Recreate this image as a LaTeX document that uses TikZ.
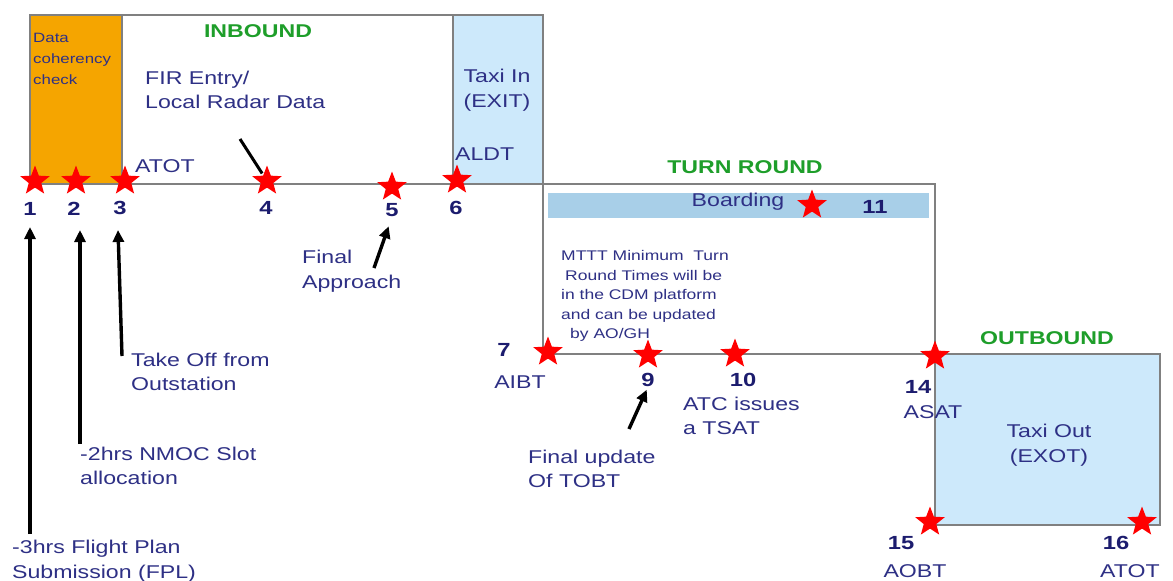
\documentclass[tikz,border=0pt]{standalone}
\usepackage{fontspec}
\setmainfont{Liberation Sans}[FakeStretch=1.25]
\usetikzlibrary{shapes.geometric,arrows.meta,backgrounds}
\definecolor{navy}{HTML}{2E3085}
\definecolor{numnavy}{HTML}{1C1C6E}
\definecolor{hgreen}{HTML}{1E9E2A}
\definecolor{orfill}{HTML}{F5A500}
\definecolor{tblue}{HTML}{CDE9FB}
\definecolor{bblue}{HTML}{A8CFE8}
\definecolor{boxgray}{HTML}{808080}
\begin{document}
\begin{tikzpicture}[x=1pt,y=-1pt,
  txt/.style={text=navy, font=\fontsize{18.5}{24.5}\selectfont, inner sep=0pt},
  small/.style={text=navy, font=\fontsize{13.5}{21}\selectfont, inner sep=0pt},
  mt/.style={text=navy, font=\fontsize{14}{19.5}\selectfont, inner sep=0pt},
  num/.style={text=numnavy, font=\bfseries\fontsize{19}{22}\selectfont, inner sep=0pt},
  head/.style={text=hgreen, font=\bfseries\fontsize{18.5}{22}\selectfont, inner sep=0pt},
  redstar/.style={star, star points=5, star point ratio=2.35, fill=red, draw=none, minimum size=31pt, inner sep=0pt},
  boxline/.style={draw=boxgray, line width=1.2pt},
  ptr/.style={line width=3.4pt, -{Triangle[length=12pt,width=11pt]}},
  plainline/.style={line width=3pt}]
\useasboundingbox (0,0) rectangle (1173,581);
\begin{scope}[on background layer]
\fill[white] (0,0) rectangle (1173,581);
\fill[orfill] (30,15) rectangle (122,184);
\fill[tblue] (453,15) rectangle (543,184);
\fill[bblue] (548,193) rectangle (929,218);
\fill[tblue] (935,354) rectangle (1160,525);
\draw[boxline] (30,184) -- (30,15) -- (543,15) -- (543,354) -- (1160,354) -- (1160,525) -- (935,525) -- (935,184) -- (30,184);
\draw[boxline] (122,15) -- (122,184);
\draw[boxline] (453,15) -- (453,184);
\end{scope}

% headers
\node[head] (inb) at (258,31) {INBOUND};
\node[head] (turn) at (745,167) {TURN ROUND};
\node[head] (outb) at (1047,338) {OUTBOUND};

% inbound texts
\node[small, anchor=west, align=left] (dcc) at (33,59) {Data\\coherency\\check};
\node[txt, anchor=west, align=left] (fir) at (145,90) {FIR Entry/\\Local Radar Data};
\node[txt, align=center] (taxiin) at (497,90) {Taxi In\\(EXIT)};
\node[txt, anchor=west] (atot3) at (135,166) {ATOT};
\node[txt, anchor=west] (aldt) at (455,154) {ALDT};

% stars
\node[redstar] (s1) at (35,181) {};
\node[redstar] (s2) at (76,181) {};
\node[redstar] (s3) at (125,181) {};
\node[redstar] (s4) at (267,181) {};
\node[redstar] (s5) at (392,187) {};
\node[redstar] (s6) at (457,180) {};
\node[redstar] (s7) at (548,352) {};
\node[redstar] (s9) at (648,355) {};
\node[redstar] (s10) at (735,354) {};
\node[redstar] (s11) at (812,205) {};
\node[redstar] (s14) at (935,356) {};
\node[redstar] (s15) at (930,522) {};
\node[redstar] (s16) at (1142,522) {};

% numbers
\node[num] (n1) at (30,209) {1};
\node[num] (n2) at (74,209) {2};
\node[num] (n3) at (120,208) {3};
\node[num] (n4) at (266,208) {4};
\node[num] (n5) at (392,210) {5};
\node[num] (n6) at (456,208) {6};
\node[num] (n7) at (504,350) {7};
\node[num] (n9) at (648,380) {9};
\node[num] (n10) at (743,380) {10};
\node[num] (n11) at (875,207) {11};
\node[num] (n14) at (918,387) {14};
\node[num] (n15) at (901,543) {15};
\node[num] (n16) at (1116,543) {16};

% turn round texts
\node[txt] (board) at (738,202) {Boarding};
\node[mt, anchor=west, align=left] (mttt) at (561,296) {MTTT Minimum\ \ Turn\\\hspace*{4pt}Round Times will be\\in the CDM platform\\and can be updated\\\hspace*{9pt}by AO/GH};
\node[txt] (aibt) at (520,382) {AIBT};
\node[txt, anchor=west, align=left] (atc) at (683,416) {ATC issues\\a TSAT};
\node[txt, anchor=west, align=left] (fu) at (528,469) {Final update\\Of TOBT};

% outbound texts
\node[txt, align=center] (taxiout) at (1049,445) {Taxi Out\\(EXOT)};
\node[txt] (asat) at (933,412) {ASAT};
\node[txt] (aobt) at (915,571) {AOBT};
\node[txt] (atot16) at (1130,571) {ATOT};

% lower-left annotations
\node[txt, anchor=west, align=left] (toff) at (131,372) {Take Off from\\Outstation};
\node[txt, anchor=west, align=left] (nmoc) at (80,466) {-2hrs NMOC Slot\\allocation};
\node[txt, anchor=west, align=left] (fpl) at (12,561) {-3hrs Flight Plan\\Submission (FPL)};
\node[txt, anchor=west, align=left] (fa) at (302,271) {Final\\Approach};

% connectors
\coordinate (a1s) at (30,534);
\coordinate (a2s) at (80,444);
\coordinate (a3s) at (122,356);
\coordinate (l4s) at (240,139);
\coordinate (a5s) at (374,268);
\coordinate (a9s) at (629,429);
\begin{scope}[on background layer]
\draw[ptr] (a1s) -- (a1s |- 0,227);
\draw[ptr] (a2s) -- (a2s |- 0,230);
\draw[ptr] (a3s) -- (118,230);
\draw[plainline, shorten >=9pt] (l4s) -- (s4.center);
\draw[ptr, shorten >=10pt] (a5s) -- (n5.south);
\draw[ptr, shorten >=3pt] (a9s) -- (n9.south);
\end{scope}
\end{tikzpicture}
\end{document}
